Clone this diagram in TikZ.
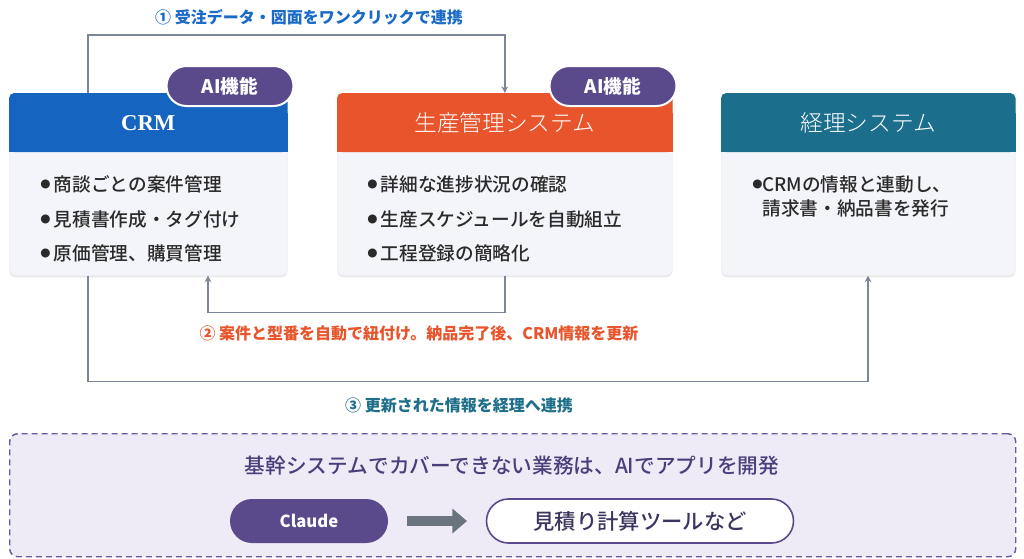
\documentclass[tikz,border=0pt]{standalone}
\usepackage{fontspec}
\usetikzlibrary{calc,arrows.meta,shadows}
\setmainfont{Noto Sans CJK JP}
\IfFontExistsTF{Noto Sans CJK JP Medium}{\newfontfamily\medfont{Noto Sans CJK JP Medium}}{\newfontfamily\medfont{Noto Sans CJK JP}[FakeBold=0.5]}
\IfFontExistsTF{Noto Sans CJK JP Light}{\newfontfamily\lightfont{Noto Sans CJK JP Light}}{\newfontfamily\lightfont{Noto Sans CJK JP}}
\newfontfamily\serifbold{Liberation Serif}
\newfontfamily\bulletfont{DejaVu Sans}
\definecolor{crmblue}{HTML}{1565C0}
\definecolor{prodorange}{HTML}{E8552D}
\definecolor{accteal}{HTML}{1C6E8D}
\definecolor{bodyfill}{HTML}{F4F5FA}
\definecolor{badgepurple}{HTML}{5B4A8B}
\definecolor{conngray}{HTML}{7D8699}
\definecolor{lblblue}{HTML}{1A6AC8}
\definecolor{lblteal}{HTML}{1F6F8B}
\definecolor{botfill}{HTML}{EEEBF6}
\definecolor{botborder}{HTML}{6B5B9E}
\definecolor{bottitle}{HTML}{4B3E7B}
\definecolor{arrowgray}{HTML}{6B747E}
\definecolor{tooltext}{HTML}{3D3560}
\definecolor{bodytext}{HTML}{2A2A2A}
\newcommand{\bul}{\raisebox{2.6pt}{\bulletfont\fontsize{8.8pt}{9pt}\selectfont ●}\hspace{2.5pt}}
\begin{document}
\begin{tikzpicture}[x=0.75pt,y=-0.75pt,
  boxbody/.style={rectangle, rounded corners=4pt, fill=bodyfill, draw=black!6, line width=0.4pt,
    anchor=north west, minimum height=136.5pt, inner sep=0pt,
    drop shadow={shadow xshift=0pt, shadow yshift=-1.5pt, opacity=0.12, fill=black!70}},
  titletext/.style={text=white, font=\lightfont\fontsize{17pt}{20pt}\selectfont},
  itemtext/.style={anchor=west, text=bodytext, inner sep=0pt, font=\medfont\fontsize{14pt}{17pt}\selectfont},
  badge/.style={rectangle, rounded corners=15pt, fill=badgepurple, draw=white, line width=1.5pt,
    minimum width=95.25pt, minimum height=30pt, text=white, font=\bfseries\fontsize{14pt}{16pt}\selectfont},
  conn/.style={draw=conngray, line width=1.4pt, -{Stealth[length=5pt,width=5pt]}},
  lbl/.style={font=\bfseries\fontsize{12pt}{14pt}\selectfont},
  pill/.style={rectangle, rounded corners=16.5pt, minimum height=33pt},
]
\useasboundingbox[fill=white] (0,0) rectangle (1024,558);

% boxes
\node[boxbody, minimum width=208.5pt] (crm) at (9,93) {};
\node[boxbody, minimum width=251.25pt] (prod) at (337,93) {};
\node[boxbody, minimum width=220.5pt] (acc) at (721,93) {};

% headers
\foreach \b/\c in {crm/crmblue, prod/prodorange, acc/accteal}{
  \fill[\c, rounded corners=4pt] (\b.north west) rectangle ($(\b.north east)+(0,59)$);
  \fill[\c] ($(\b.north west)+(0,20)$) rectangle ($(\b.north east)+(0,59)$);
}

% titles
\node[text=white, font=\serifbold\bfseries\fontsize{17pt}{20pt}\selectfont] (crmt) at ($(crm.north)+(0,30)$) {CRM};
\node[titletext] (prodt) at ($(prod.north)+(0,30)$) {生産管理システム};
\node[titletext] (acct) at ($(acc.north)+(0,30)$) {経理システム};

% items
\node[itemtext] (crm1) at (40,184) {\bul 商談ごとの案件管理};
\node[itemtext] (crm2) at (40,219) {\bul 見積書作成・タグ付け};
\node[itemtext] (crm3) at (40,253) {\bul 原価管理、購買管理};
\node[itemtext] (prod1) at (367,184) {\bul 詳細な進捗状況の確認};
\node[itemtext] (prod2) at (367,219) {\bul 生産スケジュールを自動組立};
\node[itemtext] (prod3) at (367,253) {\bul 工程登録の簡略化};
\node[itemtext, anchor=north west, align=left] (acc1) at (752,175) {%
  \begin{tabular}{@{}l@{}l@{}}\bul & CRMの情報と連動し、\\[1pt] & 請求書・納品書を発行\end{tabular}};

% badges
\node[badge] (b1) at (230,86) {AI機能};
\node[badge] (b2) at (613,86) {AI機能};

% connectors
\draw[conn] ($(crm.north west)+(79,0)$) -- ++(0,-58) -| (prod.north);
\draw[conn] (prod.south) -- ++(0,37) -| ($(crm.south west)+(199,0)$);
\draw[conn] ($(crm.south west)+(79,0)$) -- ++(0,106) -| ($(acc.south west)+(147,0)$);

% labels
\node[lbl, text=lblblue] (l1) at (309,17) {① 受注データ・図面をワンクリックで連携};
\node[lbl, text=prodorange] (l2) at (419,333) {② 案件と型番を自動で紐付け。納品完了後、CRM情報を更新};
\node[lbl, text=lblteal] (l3) at (459,405) {③ 更新された情報を経理へ連携};

% bottom area
\node[rectangle, rounded corners=6pt, fill=botfill, draw=botborder, line width=1.1pt,
  dash pattern=on 4.5pt off 3pt, anchor=north west, minimum width=754.5pt, minimum height=92.25pt] (bot) at (9,433) {};
\node[text=bottitle, font=\medfont\fontsize{15.5pt}{18pt}\selectfont] (bt) at (512,466) {基幹システムでカバーできない業務は、AIでアプリを開発};
\node[pill, fill=badgepurple, minimum width=118.5pt, text=white, font=\bfseries\fontsize{12.5pt}{14pt}\selectfont] (claude) at (309,521) {Claude};
\node[pill, fill=white, draw=badgepurple, line width=1.2pt, minimum width=230.25pt, text=tooltext,
  font=\medfont\fontsize{16pt}{19pt}\selectfont] (tool) at (640,521) {見積り計算ツールなど};
\draw[draw=arrowgray, line width=7pt, -{Triangle[length=11pt,width=18pt]}, shorten <=14pt, shorten >=14pt] (claude) -- (tool);
\end{tikzpicture}
\end{document}
